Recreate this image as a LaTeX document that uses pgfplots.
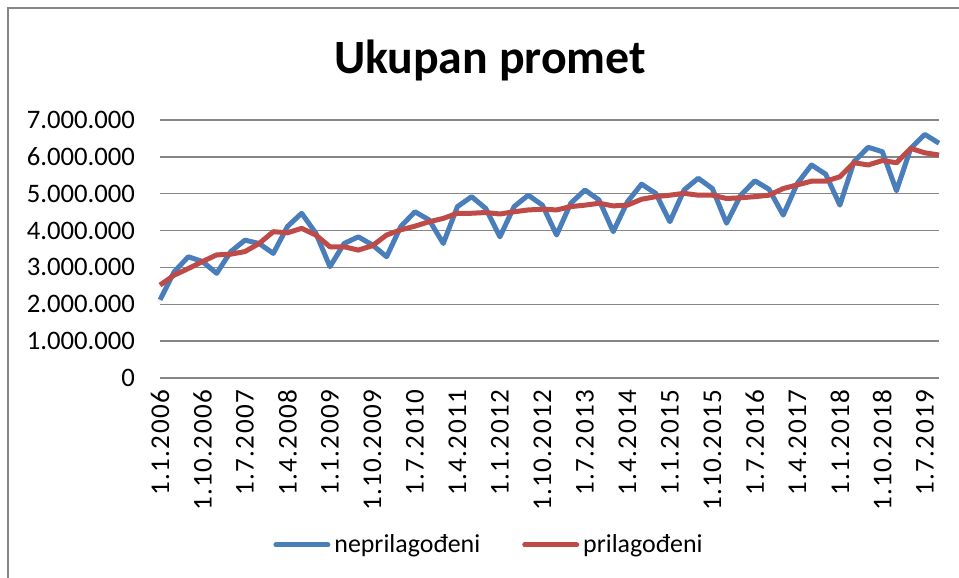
\documentclass[border=0pt]{standalone}
\usepackage{pgfplots}
\pgfplotsset{compat=1.18}
\usepackage{pgfplotstable}
\usepackage{fontspec}
\setmainfont{Carlito}
\newfontfamily\xlabfont[LetterSpace=5]{Carlito}
\definecolor{sblue}{HTML}{4A7EBB}
\definecolor{sred}{HTML}{BE4B48}
\definecolor{gridgray}{HTML}{868686}
\pgfplotstableread{
i neprilagodeni prilagodeni
0 2120000 2520000
1 2880000 2790000
2 3290000 2970000
3 3160000 3160000
4 2840000 3340000
5 3430000 3360000
6 3740000 3430000
7 3650000 3650000
8 3380000 3970000
9 4110000 3940000
10 4470000 4060000
11 3930000 3880000
12 3020000 3560000
13 3650000 3560000
14 3830000 3470000
15 3610000 3590000
16 3290000 3880000
17 4110000 4020000
18 4510000 4120000
19 4290000 4240000
20 3650000 4330000
21 4650000 4470000
22 4920000 4470000
23 4600000 4490000
24 3830000 4450000
25 4650000 4510000
26 4960000 4560000
27 4690000 4580000
28 3880000 4560000
29 4740000 4650000
30 5100000 4690000
31 4830000 4740000
32 3970000 4670000
33 4780000 4690000
34 5260000 4850000
35 5010000 4920000
36 4240000 4960000
37 5100000 5010000
38 5420000 4960000
39 5140000 4960000
40 4200000 4870000
41 4960000 4890000
42 5350000 4920000
43 5120000 4960000
44 4420000 5140000
45 5280000 5240000
46 5780000 5340000
47 5530000 5340000
48 4690000 5460000
49 5870000 5840000
50 6260000 5780000
51 6140000 5900000
52 5080000 5840000
53 6230000 6230000
54 6610000 6110000
55 6370000 6050000
}\datatable
\begin{document}
\begin{tikzpicture}
\useasboundingbox (0,0) rectangle (479.5bp,289bp);
\draw[gridgray, line width=1bp] (4bp,-20bp) rectangle (500bp,285bp);
\node[font=\fontsize{24}{28}\selectfont\bfseries] at (245bp,259bp) {Ukupan promet};
\begin{axis}[
  at={(80bp,100bp)}, anchor=south west,
  scale only axis, width=389.5bp, height=129bp,
  xmin=0, xmax=55, ymin=0, ymax=7000000,
  axis line style={draw=none},
  axis x line*=bottom,
  ymajorgrids, grid style={gridgray, line width=0.75bp},
  major tick length=0pt,
  ytick={0,1000000,...,7000000},
  scaled y ticks=false,
  /pgf/number format/.cd, fixed, precision=0, 1000 sep={.}, assume math mode=true,
  /pgfplots/.cd,
  yticklabel style={font=\fontsize{13.4}{15}\selectfont, anchor=east, xshift=-9bp},
  xtick={0,3,...,54},
  xticklabels={1.1.2006,1.10.2006,1.7.2007,1.4.2008,1.1.2009,1.10.2009,1.7.2010,1.4.2011,1.1.2012,1.10.2012,1.7.2013,1.4.2014,1.1.2015,1.10.2015,1.7.2016,1.4.2017,1.1.2018,1.10.2018,1.7.2019},
  xticklabel shift=2.5bp,
  xticklabel style={font=\xlabfont\fontsize{13.6}{15}\selectfont, rotate=90, anchor=east},
  clip=false,
  legend style={at={(0.4236,-0.647)}, anchor=center, draw=none, fill=none,
    font=\fontsize{13}{15}\selectfont, column sep=0bp,
    /tikz/every even column/.append style={column sep=19bp}},
  legend columns=2,
  legend image code/.code={\draw[#1, line width=2.5bp, line cap=round] (0bp,0bp) -- (26bp,0bp);},
]
\draw[gridgray, line width=0.75bp] (axis cs:0,0) -- (axis cs:55,0);
\addplot[sblue, line width=2.5bp, line join=round] table[x=i, y=neprilagodeni] {\datatable};
\addlegendentry{neprilagođeni}
\addplot[sred, line width=2.5bp, line join=round] table[x=i, y=prilagodeni] {\datatable};
\addlegendentry{prilagođeni}
\end{axis}
\end{tikzpicture}
\end{document}
